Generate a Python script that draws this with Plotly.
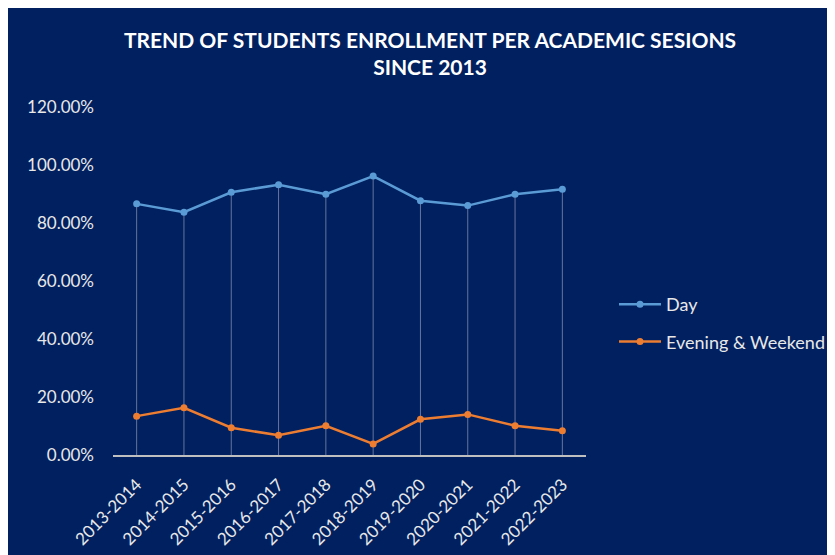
import plotly.graph_objects as go

sessions = ["2013-2014", "2014-2015", "2015-2016", "2016-2017", "2017-2018",
            "2018-2019", "2019-2020", "2020-2021", "2021-2022", "2022-2023"]
day = [0.866, 0.837, 0.906, 0.932, 0.899, 0.962, 0.877, 0.860, 0.899, 0.916]
evening = [0.134, 0.163, 0.094, 0.068, 0.101, 0.038, 0.123, 0.140, 0.101, 0.084]

NAVY = "#002060"
FONT = "Lato"

W, H = 827, 547  # page body adds an 8px margin
OFF = 8

fig = go.Figure()

# drop lines (Day value down to axis) via error bars
fig.add_trace(go.Scatter(
    x=sessions, y=day, mode="markers", showlegend=False, hoverinfo="skip",
    marker=dict(size=1, color="rgba(0,0,0,0)"),
    error_y=dict(type="data", symmetric=False, array=[0] * len(day), arrayminus=day,
                 color="#66759c", thickness=1, width=0),
))

fig.add_trace(go.Scatter(
    x=sessions, y=day, name="Day", mode="lines+markers", legendgroup="a",
    line=dict(color="#5b9bd5", width=2.5),
    marker=dict(size=7, color="#5b9bd5"),
))
fig.add_trace(go.Scatter(
    x=sessions, y=evening, name="Evening & Weekend", mode="lines+markers",
    legendgroup="b",
    line=dict(color="#ed7d31", width=2.5),
    marker=dict(size=7, color="#ed7d31"),
))

# plot area in page pixels
L, R, T, B = 113 - OFF, 586 - OFF, 107 - OFF, 455 - OFF


def px_x(p):
    return (p - OFF - L) / (R - L)


def px_y(p):
    return (B - (p - OFF)) / (B - T)


fig.update_layout(
    width=W, height=H,
    paper_bgcolor=NAVY, plot_bgcolor=NAVY,
    margin=dict(l=L, r=W - R, t=T, b=H - B, autoexpand=False),
    title=dict(
        text="TREND OF STUDENTS ENROLLMENT PER ACADEMIC SESIONS<br>SINCE 2013",
        x=(430 - OFF) / W, xanchor="center", y=1 - (48 - OFF) / H, yanchor="middle",
        font=dict(family=FONT, size=21, color="white", weight="bold"),
    ),
    font=dict(family=FONT, color="#e0e0e0"),
    legend=dict(
        x=px_x(614), xanchor="left", y=px_y(323), yanchor="middle",
        font=dict(family=FONT, size=18, color="#e8e8e8"),
        bgcolor="rgba(0,0,0,0)", tracegroupgap=11, itemwidth=42,
    ),
    xaxis=dict(
        type="category", showgrid=False, showline=True, linecolor="#bfbfbf",
        linewidth=2, ticks="", tickangle=-45, ticklabelstandoff=11,
        tickfont=dict(family=FONT, size=17, color="#e8e8e8"),
        range=[-0.5, 9.5], fixedrange=True, automargin=False,
    ),
    yaxis=dict(
        range=[0, 1.2], dtick=0.2, tickformat=".2%", showgrid=False,
        zeroline=False, showline=False, ticks="", automargin=False,
        tickfont=dict(family=FONT, size=17, color="#e8e8e8"),
        ticklabelstandoff=18,
    ),
)

fig.write_html("out.html")
